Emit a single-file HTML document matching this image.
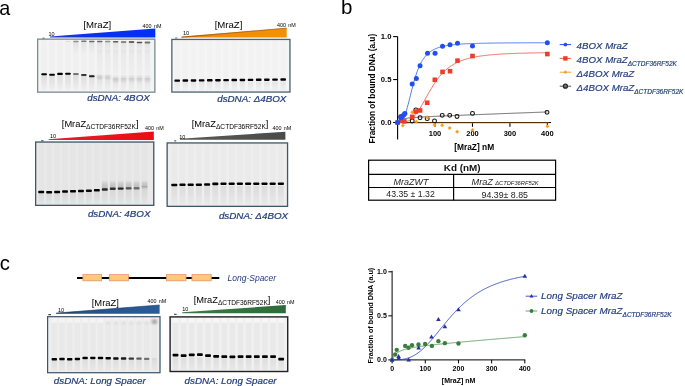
<!DOCTYPE html>
<html><head><meta charset="utf-8"><style>
html,body{margin:0;padding:0;background:#fff;}
body{width:685px;height:386px;overflow:hidden;font-family:"Liberation Sans",sans-serif;}
svg{display:block;will-change:transform;}
</style></head><body>
<svg width="685" height="386" viewBox="0 0 685 386" font-family="'Liberation Sans', sans-serif">
<defs>
<filter id="b05" x="-50%" y="-50%" width="200%" height="200%"><feGaussianBlur stdDeviation="0.5"/></filter>
<filter id="b1" x="-50%" y="-50%" width="200%" height="200%"><feGaussianBlur stdDeviation="1"/></filter>
<filter id="b08" x="-50%" y="-50%" width="200%" height="200%"><feGaussianBlur stdDeviation="0.8"/></filter>
<filter id="b03" x="-50%" y="-50%" width="200%" height="200%"><feGaussianBlur stdDeviation="0.3"/></filter>
<linearGradient id="smearUp" x1="0" y1="1" x2="0" y2="0"><stop offset="0" stop-color="#000" stop-opacity="0.3"/><stop offset="0.6" stop-color="#000" stop-opacity="0.18"/><stop offset="1" stop-color="#000" stop-opacity="0.04"/></linearGradient>
<linearGradient id="smear" x1="0" y1="0" x2="0" y2="1"><stop offset="0" stop-color="#000" stop-opacity="0.12"/><stop offset="1" stop-color="#000" stop-opacity="0"/></linearGradient>
<linearGradient id="gBlue" x1="0" y1="0" x2="1" y2="0"><stop offset="0" stop-color="#2a3fc0"/><stop offset="0.35" stop-color="#0a30ea"/><stop offset="1" stop-color="#0030ff"/></linearGradient>
<linearGradient id="gOrange" x1="0" y1="0" x2="1" y2="0"><stop offset="0" stop-color="#e07a10"/><stop offset="0.3" stop-color="#f08c08"/><stop offset="1" stop-color="#f39200"/></linearGradient>
<linearGradient id="gRed" x1="0" y1="0" x2="1" y2="0"><stop offset="0" stop-color="#e61e26"/><stop offset="1" stop-color="#ea0d16"/></linearGradient>
<linearGradient id="gGray" x1="0" y1="0" x2="1" y2="0"><stop offset="0" stop-color="#5a5a5a"/><stop offset="1" stop-color="#4a4a4a"/></linearGradient>
<linearGradient id="gSteel" x1="0" y1="0" x2="1" y2="0"><stop offset="0" stop-color="#1e3048"/><stop offset="0.25" stop-color="#265088"/><stop offset="1" stop-color="#2a5c9a"/></linearGradient>
<linearGradient id="gGreen" x1="0" y1="0" x2="1" y2="0"><stop offset="0" stop-color="#3b7a45"/><stop offset="1" stop-color="#2d6b38"/></linearGradient>
</defs>
<rect width="685" height="386" fill="#fff"/>
<text x="-0.8" y="14.6" font-size="19.8" font-weight="normal" font-style="normal" fill="#000" text-anchor="start" >a</text>
<text x="341" y="14.3" font-size="20.5" font-weight="normal" font-style="normal" fill="#000" text-anchor="start" >b</text>
<text x="-0.2" y="269.9" font-size="20.3" font-weight="normal" font-style="normal" fill="#000" text-anchor="start" >c</text>
<path d="M50,37.4 L50,36.5 L155.3,28.5 L155.3,37.4 Z" fill="url(#gBlue)"/>
<text x="97.3" y="28.4" font-size="9.6" font-weight="normal" font-style="normal" fill="#000" text-anchor="middle" >[MraZ]</text>
<text x="142.6" y="27.6" font-size="5.4" font-weight="normal" font-style="normal" fill="#000" text-anchor="start" word-spacing="0.8">400 nM</text>
<text x="48.5" y="36" font-size="5.5" font-weight="normal" font-style="normal" fill="#000" text-anchor="start" >10</text>
<rect x="42.4" y="37.8" width="2.2" height="1.3" fill="#111"/>
<rect x="37" y="38.5" width="118.5" height="54.3" fill="#f4f4f4"/>
<rect x="41.300000000000004" y="40.5" width="5.6" height="50.3" fill="#000" opacity="0.012" filter="url(#b05)"/>
<rect x="49.25000000000001" y="40.5" width="5.6" height="50.3" fill="#000" opacity="0.012" filter="url(#b05)"/>
<rect x="57.2" y="40.5" width="5.6" height="50.3" fill="#000" opacity="0.012" filter="url(#b05)"/>
<rect x="65.15" y="40.5" width="5.6" height="50.3" fill="#000" opacity="0.012" filter="url(#b05)"/>
<rect x="73.10000000000001" y="40.5" width="5.6" height="50.3" fill="#000" opacity="0.012" filter="url(#b05)"/>
<rect x="81.05" y="40.5" width="5.6" height="50.3" fill="#000" opacity="0.012" filter="url(#b05)"/>
<rect x="89.00000000000001" y="40.5" width="5.6" height="50.3" fill="#000" opacity="0.012" filter="url(#b05)"/>
<rect x="96.95" y="40.5" width="5.6" height="50.3" fill="#000" opacity="0.012" filter="url(#b05)"/>
<rect x="104.9" y="40.5" width="5.6" height="50.3" fill="#000" opacity="0.012" filter="url(#b05)"/>
<rect x="112.85000000000001" y="40.5" width="5.6" height="50.3" fill="#000" opacity="0.012" filter="url(#b05)"/>
<rect x="120.8" y="40.5" width="5.6" height="50.3" fill="#000" opacity="0.012" filter="url(#b05)"/>
<rect x="128.75" y="40.5" width="5.6" height="50.3" fill="#000" opacity="0.012" filter="url(#b05)"/>
<rect x="136.7" y="40.5" width="5.6" height="50.3" fill="#000" opacity="0.012" filter="url(#b05)"/>
<rect x="144.65" y="40.5" width="5.6" height="50.3" fill="#000" opacity="0.012" filter="url(#b05)"/>
<rect x="41.300000000000004" y="74.5" width="5.6" height="16.5" fill="url(#smear)" opacity="0.7" filter="url(#b05)"/>
<rect x="49.25000000000001" y="74.5" width="5.6" height="16.5" fill="url(#smear)" opacity="0.7" filter="url(#b05)"/>
<rect x="57.2" y="74.5" width="5.6" height="16.5" fill="url(#smear)" opacity="0.7" filter="url(#b05)"/>
<rect x="65.15" y="74.5" width="5.6" height="16.5" fill="url(#smear)" opacity="0.7" filter="url(#b05)"/>
<rect x="73.10000000000001" y="74.5" width="5.6" height="16.5" fill="url(#smear)" opacity="0.7" filter="url(#b05)"/>
<rect x="81.05" y="74.5" width="5.6" height="16.5" fill="url(#smear)" opacity="0.7" filter="url(#b05)"/>
<rect x="89.00000000000001" y="74.5" width="5.6" height="16.5" fill="url(#smear)" opacity="0.7" filter="url(#b05)"/>
<rect x="96.95" y="78" width="5.6" height="13" fill="url(#smear)" opacity="0.5" filter="url(#b05)"/>
<rect x="104.9" y="78" width="5.6" height="13" fill="url(#smear)" opacity="0.5" filter="url(#b05)"/>
<rect x="112.85000000000001" y="78" width="5.6" height="13" fill="url(#smear)" opacity="0.5" filter="url(#b05)"/>
<rect x="120.8" y="78" width="5.6" height="13" fill="url(#smear)" opacity="0.5" filter="url(#b05)"/>
<rect x="128.75" y="78" width="5.6" height="13" fill="url(#smear)" opacity="0.5" filter="url(#b05)"/>
<rect x="136.7" y="78" width="5.6" height="13" fill="url(#smear)" opacity="0.5" filter="url(#b05)"/>
<rect x="144.65" y="78" width="5.6" height="13" fill="url(#smear)" opacity="0.5" filter="url(#b05)"/>
<rect x="73.10000000000001" y="42" width="5.6" height="13" fill="url(#smear)" opacity="0.45" filter="url(#b05)"/>
<rect x="81.05" y="42" width="5.6" height="13" fill="url(#smear)" opacity="0.45" filter="url(#b05)"/>
<rect x="89.00000000000001" y="42" width="5.6" height="13" fill="url(#smear)" opacity="0.45" filter="url(#b05)"/>
<rect x="96.95" y="42" width="5.6" height="13" fill="url(#smear)" opacity="0.45" filter="url(#b05)"/>
<rect x="104.9" y="42" width="5.6" height="13" fill="url(#smear)" opacity="0.45" filter="url(#b05)"/>
<rect x="112.85000000000001" y="42" width="5.6" height="13" fill="url(#smear)" opacity="0.45" filter="url(#b05)"/>
<rect x="120.8" y="42" width="5.6" height="13" fill="url(#smear)" opacity="0.45" filter="url(#b05)"/>
<rect x="128.75" y="42" width="5.6" height="13" fill="url(#smear)" opacity="0.45" filter="url(#b05)"/>
<rect x="136.7" y="42" width="5.6" height="13" fill="url(#smear)" opacity="0.45" filter="url(#b05)"/>
<rect x="144.65" y="42" width="5.6" height="13" fill="url(#smear)" opacity="0.45" filter="url(#b05)"/>
<rect x="96.95" y="50" width="5.6" height="30" fill="url(#smear)" opacity="0.25" filter="url(#b05)"/>
<rect x="104.9" y="50" width="5.6" height="30" fill="url(#smear)" opacity="0.25" filter="url(#b05)"/>
<rect x="112.85000000000001" y="50" width="5.6" height="30" fill="url(#smear)" opacity="0.25" filter="url(#b05)"/>
<rect x="120.8" y="50" width="5.6" height="30" fill="url(#smear)" opacity="0.25" filter="url(#b05)"/>
<rect x="128.75" y="50" width="5.6" height="30" fill="url(#smear)" opacity="0.25" filter="url(#b05)"/>
<rect x="136.7" y="50" width="5.6" height="30" fill="url(#smear)" opacity="0.25" filter="url(#b05)"/>
<rect x="144.65" y="50" width="5.6" height="30" fill="url(#smear)" opacity="0.25" filter="url(#b05)"/>
<rect x="41.30" y="73.25" width="5.6" height="2.1" rx="0.8" fill="#000" opacity="1" filter="url(#b05)"/>
<rect x="49.25" y="73.75" width="5.6" height="2.1" rx="0.8" fill="#000" opacity="1" filter="url(#b05)"/>
<rect x="57.20" y="72.85" width="5.6" height="2.1" rx="0.8" fill="#000" opacity="1" filter="url(#b05)"/>
<rect x="65.15" y="72.65" width="5.6" height="2.1" rx="0.8" fill="#000" opacity="1" filter="url(#b05)"/>
<rect x="73.10" y="73.00" width="5.6" height="2" rx="0.8" fill="#000" opacity="0.5" filter="url(#b05)"/>
<rect x="81.05" y="73.90" width="5.6" height="2" rx="0.8" fill="#000" opacity="0.75" filter="url(#b05)"/>
<rect x="89.00" y="75.20" width="5.6" height="2" rx="0.8" fill="#000" opacity="0.85" filter="url(#b05)"/>
<rect x="96.95" y="75.75" width="5.6" height="2.5" rx="0.8" fill="#000" opacity="0.22" filter="url(#b08)"/>
<rect x="104.90" y="75.75" width="5.6" height="2.5" rx="0.8" fill="#000" opacity="0.2" filter="url(#b08)"/>
<rect x="112.85" y="76.70" width="5.6" height="5" rx="0.8" fill="#000" opacity="0.1" filter="url(#b1)"/>
<rect x="120.80" y="76.30" width="5.6" height="5" rx="0.8" fill="#000" opacity="0.09" filter="url(#b1)"/>
<rect x="128.75" y="75.90" width="5.6" height="5" rx="0.8" fill="#000" opacity="0.09" filter="url(#b1)"/>
<rect x="136.70" y="75.90" width="5.6" height="5" rx="0.8" fill="#000" opacity="0.09" filter="url(#b1)"/>
<rect x="144.65" y="76.30" width="5.6" height="5" rx="0.8" fill="#000" opacity="0.09" filter="url(#b1)"/>
<rect x="65.15" y="40.90" width="5.6" height="1.2" rx="0.8" fill="#000" opacity="0.08" filter="url(#b05)"/>
<rect x="73.10" y="40.75" width="5.6" height="1.5" rx="0.8" fill="#000" opacity="0.4" filter="url(#b05)"/>
<rect x="81.05" y="40.55" width="5.6" height="1.5" rx="0.8" fill="#000" opacity="0.5" filter="url(#b05)"/>
<rect x="89.00" y="40.85" width="5.6" height="1.5" rx="0.8" fill="#000" opacity="0.55" filter="url(#b05)"/>
<rect x="96.95" y="40.85" width="5.6" height="1.5" rx="0.8" fill="#000" opacity="0.55" filter="url(#b05)"/>
<rect x="104.90" y="40.85" width="5.6" height="1.5" rx="0.8" fill="#000" opacity="0.4" filter="url(#b05)"/>
<rect x="112.85" y="41.00" width="5.6" height="1.6" rx="0.8" fill="#000" opacity="0.6" filter="url(#b05)"/>
<rect x="120.80" y="41.25" width="5.6" height="1.5" rx="0.8" fill="#000" opacity="0.55" filter="url(#b05)"/>
<rect x="128.75" y="41.20" width="5.6" height="1.6" rx="0.8" fill="#000" opacity="0.75" filter="url(#b05)"/>
<rect x="136.70" y="41.85" width="5.6" height="1.5" rx="0.8" fill="#000" opacity="0.65" filter="url(#b05)"/>
<rect x="144.65" y="41.50" width="5.6" height="2" rx="0.8" fill="#000" opacity="0.5" filter="url(#b05)"/>
<rect x="37.65" y="39.15" width="117.2" height="53.0" fill="none" stroke="#7a8c92" stroke-width="1.3"/>
<text x="87.2" y="101.2" font-size="9.8" font-weight="normal" font-style="italic" fill="#223d7c" text-anchor="start" stroke="#223d7c" stroke-width="0.22">dsDNA: 4BOX</text>
<path d="M181.5,37.5 L181.5,36.6 L286.7,28.1 L286.7,37.5 Z" fill="url(#gOrange)"/>
<path d="M181.5,37.3 L286.7,28.1" stroke="#8a4a10" stroke-width="0.6" fill="none"/>
<text x="228.5" y="28.3" font-size="9.6" font-weight="normal" font-style="normal" fill="#000" text-anchor="middle" >[MraZ]</text>
<text x="277" y="26.6" font-size="5.4" font-weight="normal" font-style="normal" fill="#000" text-anchor="start" word-spacing="0.8">400 nM</text>
<text x="183" y="34.6" font-size="5.5" font-weight="normal" font-style="normal" fill="#000" text-anchor="start" >10</text>
<rect x="175" y="37.6" width="2.5" height="1" fill="#666"/>
<rect x="171.2" y="38.8" width="119.40000000000003" height="53.900000000000006" fill="#f5f5f5"/>
<rect x="174.39999999999998" y="40.8" width="5.6" height="49.900000000000006" fill="#000" opacity="0.008" filter="url(#b05)"/>
<rect x="182.54999999999998" y="40.8" width="5.6" height="49.900000000000006" fill="#000" opacity="0.008" filter="url(#b05)"/>
<rect x="190.7" y="40.8" width="5.6" height="49.900000000000006" fill="#000" opacity="0.008" filter="url(#b05)"/>
<rect x="198.84999999999997" y="40.8" width="5.6" height="49.900000000000006" fill="#000" opacity="0.008" filter="url(#b05)"/>
<rect x="206.99999999999997" y="40.8" width="5.6" height="49.900000000000006" fill="#000" opacity="0.008" filter="url(#b05)"/>
<rect x="215.14999999999998" y="40.8" width="5.6" height="49.900000000000006" fill="#000" opacity="0.008" filter="url(#b05)"/>
<rect x="223.29999999999998" y="40.8" width="5.6" height="49.900000000000006" fill="#000" opacity="0.008" filter="url(#b05)"/>
<rect x="231.45" y="40.8" width="5.6" height="49.900000000000006" fill="#000" opacity="0.008" filter="url(#b05)"/>
<rect x="239.59999999999997" y="40.8" width="5.6" height="49.900000000000006" fill="#000" opacity="0.008" filter="url(#b05)"/>
<rect x="247.75" y="40.8" width="5.6" height="49.900000000000006" fill="#000" opacity="0.008" filter="url(#b05)"/>
<rect x="255.89999999999998" y="40.8" width="5.6" height="49.900000000000006" fill="#000" opacity="0.008" filter="url(#b05)"/>
<rect x="264.05" y="40.8" width="5.6" height="49.900000000000006" fill="#000" opacity="0.008" filter="url(#b05)"/>
<rect x="272.2" y="40.8" width="5.6" height="49.900000000000006" fill="#000" opacity="0.008" filter="url(#b05)"/>
<rect x="280.34999999999997" y="40.8" width="5.6" height="49.900000000000006" fill="#000" opacity="0.008" filter="url(#b05)"/>
<rect x="174.39999999999998" y="81.5" width="5.6" height="10.5" fill="url(#smear)" opacity="0.45" filter="url(#b05)"/>
<rect x="182.54999999999998" y="81.5" width="5.6" height="10.5" fill="url(#smear)" opacity="0.45" filter="url(#b05)"/>
<rect x="190.7" y="81.5" width="5.6" height="10.5" fill="url(#smear)" opacity="0.45" filter="url(#b05)"/>
<rect x="198.84999999999997" y="81.5" width="5.6" height="10.5" fill="url(#smear)" opacity="0.45" filter="url(#b05)"/>
<rect x="206.99999999999997" y="81.5" width="5.6" height="10.5" fill="url(#smear)" opacity="0.45" filter="url(#b05)"/>
<rect x="215.14999999999998" y="81.5" width="5.6" height="10.5" fill="url(#smear)" opacity="0.45" filter="url(#b05)"/>
<rect x="223.29999999999998" y="81.5" width="5.6" height="10.5" fill="url(#smear)" opacity="0.45" filter="url(#b05)"/>
<rect x="231.45" y="81.5" width="5.6" height="10.5" fill="url(#smear)" opacity="0.45" filter="url(#b05)"/>
<rect x="239.59999999999997" y="81.5" width="5.6" height="10.5" fill="url(#smear)" opacity="0.45" filter="url(#b05)"/>
<rect x="247.75" y="81.5" width="5.6" height="10.5" fill="url(#smear)" opacity="0.45" filter="url(#b05)"/>
<rect x="255.89999999999998" y="81.5" width="5.6" height="10.5" fill="url(#smear)" opacity="0.45" filter="url(#b05)"/>
<rect x="264.05" y="81.5" width="5.6" height="10.5" fill="url(#smear)" opacity="0.45" filter="url(#b05)"/>
<rect x="272.2" y="81.5" width="5.6" height="10.5" fill="url(#smear)" opacity="0.45" filter="url(#b05)"/>
<rect x="280.34999999999997" y="81.5" width="5.6" height="10.5" fill="url(#smear)" opacity="0.45" filter="url(#b05)"/>
<rect x="174.40" y="79.40" width="5.6" height="2.4" rx="0.8" fill="#000" opacity="1" filter="url(#b05)"/>
<rect x="182.55" y="79.32" width="5.6" height="2.4" rx="0.8" fill="#000" opacity="1" filter="url(#b05)"/>
<rect x="190.70" y="79.24" width="5.6" height="2.4" rx="0.8" fill="#000" opacity="1" filter="url(#b05)"/>
<rect x="198.85" y="79.16" width="5.6" height="2.4" rx="0.8" fill="#000" opacity="1" filter="url(#b05)"/>
<rect x="207.00" y="79.08" width="5.6" height="2.4" rx="0.8" fill="#000" opacity="1" filter="url(#b05)"/>
<rect x="215.15" y="79.00" width="5.6" height="2.4" rx="0.8" fill="#000" opacity="1" filter="url(#b05)"/>
<rect x="223.30" y="78.92" width="5.6" height="2.4" rx="0.8" fill="#000" opacity="1" filter="url(#b05)"/>
<rect x="231.45" y="78.84" width="5.6" height="2.4" rx="0.8" fill="#000" opacity="1" filter="url(#b05)"/>
<rect x="239.60" y="78.76" width="5.6" height="2.4" rx="0.8" fill="#000" opacity="1" filter="url(#b05)"/>
<rect x="247.75" y="78.68" width="5.6" height="2.4" rx="0.8" fill="#000" opacity="1" filter="url(#b05)"/>
<rect x="255.90" y="78.60" width="5.6" height="2.4" rx="0.8" fill="#000" opacity="1" filter="url(#b05)"/>
<rect x="264.05" y="78.52" width="5.6" height="2.4" rx="0.8" fill="#000" opacity="1" filter="url(#b05)"/>
<rect x="272.20" y="78.44" width="5.6" height="2.4" rx="0.8" fill="#000" opacity="1" filter="url(#b05)"/>
<rect x="280.35" y="78.36" width="5.6" height="2.4" rx="0.8" fill="#000" opacity="1" filter="url(#b05)"/>
<rect x="171.85" y="39.449999999999996" width="118.10000000000004" height="52.60000000000001" fill="none" stroke="#4a6272" stroke-width="1.3"/>
<text x="217.2" y="102" font-size="9.8" font-weight="normal" font-style="italic" fill="#223d7c" text-anchor="start" stroke="#223d7c" stroke-width="0.22">dsDNA: Δ4BOX</text>
<path d="M48.6,140.1 L48.6,139.2 L153.8,131.4 L153.8,140.1 Z" fill="url(#gRed)"/>
<text x="61.8" y="126.5" font-size="9.3">[MraZ<tspan font-size="6.6" dy="2">ΔCTDF36RF52K</tspan><tspan dy="-2">]</tspan></text>
<text x="145" y="129.8" font-size="5.4" font-weight="normal" font-style="normal" fill="#000" text-anchor="start" word-spacing="0.8">400 nM</text>
<text x="50" y="137.5" font-size="5.5" font-weight="normal" font-style="normal" fill="#000" text-anchor="start" >10</text>
<rect x="41" y="140.4" width="2.6" height="1.2" fill="#222"/>
<rect x="35" y="141.4" width="119.4" height="64.6" fill="#e9e9e9"/>
<rect x="38.400000000000006" y="143.4" width="5.6" height="60.599999999999994" fill="#000" opacity="0.01" filter="url(#b05)"/>
<rect x="46.35000000000001" y="143.4" width="5.6" height="60.599999999999994" fill="#000" opacity="0.01" filter="url(#b05)"/>
<rect x="54.300000000000004" y="143.4" width="5.6" height="60.599999999999994" fill="#000" opacity="0.01" filter="url(#b05)"/>
<rect x="62.250000000000014" y="143.4" width="5.6" height="60.599999999999994" fill="#000" opacity="0.01" filter="url(#b05)"/>
<rect x="70.2" y="143.4" width="5.6" height="60.599999999999994" fill="#000" opacity="0.01" filter="url(#b05)"/>
<rect x="78.15" y="143.4" width="5.6" height="60.599999999999994" fill="#000" opacity="0.01" filter="url(#b05)"/>
<rect x="86.10000000000001" y="143.4" width="5.6" height="60.599999999999994" fill="#000" opacity="0.01" filter="url(#b05)"/>
<rect x="94.05" y="143.4" width="5.6" height="60.599999999999994" fill="#000" opacity="0.01" filter="url(#b05)"/>
<rect x="102.00000000000001" y="143.4" width="5.6" height="60.599999999999994" fill="#000" opacity="0.01" filter="url(#b05)"/>
<rect x="109.95" y="143.4" width="5.6" height="60.599999999999994" fill="#000" opacity="0.01" filter="url(#b05)"/>
<rect x="117.9" y="143.4" width="5.6" height="60.599999999999994" fill="#000" opacity="0.01" filter="url(#b05)"/>
<rect x="125.85000000000001" y="143.4" width="5.6" height="60.599999999999994" fill="#000" opacity="0.01" filter="url(#b05)"/>
<rect x="133.8" y="143.4" width="5.6" height="60.599999999999994" fill="#000" opacity="0.01" filter="url(#b05)"/>
<rect x="141.75" y="143.4" width="5.6" height="60.599999999999994" fill="#000" opacity="0.01" filter="url(#b05)"/>
<rect x="38.25" y="192" width="5.9" height="13" fill="url(#smear)" opacity="0.55" filter="url(#b05)"/>
<rect x="46.2" y="192" width="5.9" height="13" fill="url(#smear)" opacity="0.55" filter="url(#b05)"/>
<rect x="54.15" y="192" width="5.9" height="13" fill="url(#smear)" opacity="0.55" filter="url(#b05)"/>
<rect x="62.10000000000001" y="192" width="5.9" height="13" fill="url(#smear)" opacity="0.55" filter="url(#b05)"/>
<rect x="70.05" y="192" width="5.9" height="13" fill="url(#smear)" opacity="0.55" filter="url(#b05)"/>
<rect x="78.0" y="192" width="5.9" height="13" fill="url(#smear)" opacity="0.55" filter="url(#b05)"/>
<rect x="85.95" y="192" width="5.9" height="13" fill="url(#smear)" opacity="0.55" filter="url(#b05)"/>
<rect x="93.89999999999999" y="192" width="5.9" height="13" fill="url(#smear)" opacity="0.55" filter="url(#b05)"/>
<rect x="101.85000000000001" y="189" width="5.9" height="16" fill="url(#smear)" opacity="0.5" filter="url(#b05)"/>
<rect x="109.8" y="189" width="5.9" height="16" fill="url(#smear)" opacity="0.5" filter="url(#b05)"/>
<rect x="117.75" y="189" width="5.9" height="16" fill="url(#smear)" opacity="0.5" filter="url(#b05)"/>
<rect x="125.7" y="189" width="5.9" height="16" fill="url(#smear)" opacity="0.5" filter="url(#b05)"/>
<rect x="133.65000000000003" y="189" width="5.9" height="16" fill="url(#smear)" opacity="0.5" filter="url(#b05)"/>
<rect x="141.60000000000002" y="189" width="5.9" height="16" fill="url(#smear)" opacity="0.5" filter="url(#b05)"/>
<rect x="101.85000000000001" y="180.8" width="5.9" height="8.699999999999989" fill="url(#smearUp)" opacity="0.65" filter="url(#b05)"/>
<rect x="109.8" y="180.8" width="5.9" height="8.0" fill="url(#smearUp)" opacity="0.65" filter="url(#b05)"/>
<rect x="117.75" y="180.8" width="5.9" height="7.799999999999983" fill="url(#smearUp)" opacity="0.65" filter="url(#b05)"/>
<rect x="125.7" y="180.8" width="5.9" height="7.599999999999994" fill="url(#smearUp)" opacity="0.65" filter="url(#b05)"/>
<rect x="133.65000000000003" y="180.8" width="5.9" height="7.599999999999994" fill="url(#smearUp)" opacity="0.65" filter="url(#b05)"/>
<rect x="141.60000000000002" y="180.8" width="5.9" height="6.699999999999989" fill="url(#smearUp)" opacity="0.65" filter="url(#b05)"/>
<rect x="38.25" y="190.70" width="5.9" height="2.6" rx="0.8" fill="#000" opacity="1" filter="url(#b05)"/>
<rect x="46.20" y="191.00" width="5.9" height="2.6" rx="0.8" fill="#000" opacity="1" filter="url(#b05)"/>
<rect x="54.15" y="190.75" width="5.9" height="2.5" rx="0.8" fill="#000" opacity="1" filter="url(#b05)"/>
<rect x="62.10" y="190.35" width="5.9" height="2.5" rx="0.8" fill="#000" opacity="1" filter="url(#b05)"/>
<rect x="70.05" y="190.05" width="5.9" height="2.5" rx="0.8" fill="#000" opacity="1" filter="url(#b05)"/>
<rect x="78.00" y="189.75" width="5.9" height="2.5" rx="0.8" fill="#000" opacity="1" filter="url(#b05)"/>
<rect x="85.95" y="189.55" width="5.9" height="2.5" rx="0.8" fill="#000" opacity="0.95" filter="url(#b05)"/>
<rect x="93.90" y="188.95" width="5.9" height="2.5" rx="0.8" fill="#000" opacity="1" filter="url(#b05)"/>
<rect x="101.85" y="188.30" width="5.9" height="2.4" rx="0.8" fill="#000" opacity="0.8" filter="url(#b05)"/>
<rect x="109.80" y="187.60" width="5.9" height="2.4" rx="0.8" fill="#000" opacity="0.75" filter="url(#b05)"/>
<rect x="117.75" y="187.40" width="5.9" height="2.4" rx="0.8" fill="#000" opacity="0.8" filter="url(#b05)"/>
<rect x="125.70" y="187.20" width="5.9" height="2.4" rx="0.8" fill="#000" opacity="0.6" filter="url(#b05)"/>
<rect x="133.65" y="187.20" width="5.9" height="2.4" rx="0.8" fill="#000" opacity="0.5" filter="url(#b05)"/>
<rect x="141.60" y="186.00" width="5.9" height="3" rx="0.8" fill="#000" opacity="0.1" filter="url(#b05)"/>
<rect x="35.65" y="142.05" width="118.10000000000001" height="63.3" fill="none" stroke="#3f5868" stroke-width="1.3"/>
<text x="87.9" y="216.6" font-size="9.8" font-weight="normal" font-style="italic" fill="#223d7c" text-anchor="start" stroke="#223d7c" stroke-width="0.22">dsDNA: 4BOX</text>
<path d="M180,139.7 L180,138.79999999999998 L285.4,131.7 L285.4,139.7 Z" fill="url(#gGray)"/>
<text x="191.7" y="126.9" font-size="9.3">[MraZ<tspan font-size="6.6" dy="2">ΔCTDF36RF52K</tspan><tspan dy="-2">]</tspan></text>
<text x="272.5" y="130.4" font-size="5.4" font-weight="normal" font-style="normal" fill="#000" text-anchor="start" word-spacing="0.8">400 nM</text>
<text x="179.2" y="138.8" font-size="5.5" font-weight="normal" font-style="normal" fill="#000" text-anchor="start" >10</text>
<rect x="174.2" y="140.4" width="2" height="1" fill="#444"/>
<rect x="166.5" y="142.3" width="121.69999999999999" height="64.69999999999999" fill="#eeeeee"/>
<rect x="171.5" y="144.3" width="5.6" height="60.69999999999999" fill="#000" opacity="0.01" filter="url(#b05)"/>
<rect x="179.7" y="144.3" width="5.6" height="60.69999999999999" fill="#000" opacity="0.01" filter="url(#b05)"/>
<rect x="187.9" y="144.3" width="5.6" height="60.69999999999999" fill="#000" opacity="0.01" filter="url(#b05)"/>
<rect x="196.1" y="144.3" width="5.6" height="60.69999999999999" fill="#000" opacity="0.01" filter="url(#b05)"/>
<rect x="204.3" y="144.3" width="5.6" height="60.69999999999999" fill="#000" opacity="0.01" filter="url(#b05)"/>
<rect x="212.5" y="144.3" width="5.6" height="60.69999999999999" fill="#000" opacity="0.01" filter="url(#b05)"/>
<rect x="220.7" y="144.3" width="5.6" height="60.69999999999999" fill="#000" opacity="0.01" filter="url(#b05)"/>
<rect x="228.89999999999998" y="144.3" width="5.6" height="60.69999999999999" fill="#000" opacity="0.01" filter="url(#b05)"/>
<rect x="237.1" y="144.3" width="5.6" height="60.69999999999999" fill="#000" opacity="0.01" filter="url(#b05)"/>
<rect x="245.3" y="144.3" width="5.6" height="60.69999999999999" fill="#000" opacity="0.01" filter="url(#b05)"/>
<rect x="253.5" y="144.3" width="5.6" height="60.69999999999999" fill="#000" opacity="0.01" filter="url(#b05)"/>
<rect x="261.7" y="144.3" width="5.6" height="60.69999999999999" fill="#000" opacity="0.01" filter="url(#b05)"/>
<rect x="269.9" y="144.3" width="5.6" height="60.69999999999999" fill="#000" opacity="0.01" filter="url(#b05)"/>
<rect x="278.09999999999997" y="144.3" width="5.6" height="60.69999999999999" fill="#000" opacity="0.01" filter="url(#b05)"/>
<rect x="171.3" y="186" width="6.0" height="20" fill="url(#smear)" opacity="0.5" filter="url(#b05)"/>
<rect x="179.5" y="186" width="6.0" height="20" fill="url(#smear)" opacity="0.5" filter="url(#b05)"/>
<rect x="187.70000000000002" y="186" width="6.0" height="20" fill="url(#smear)" opacity="0.5" filter="url(#b05)"/>
<rect x="195.9" y="186" width="6.0" height="20" fill="url(#smear)" opacity="0.5" filter="url(#b05)"/>
<rect x="204.10000000000002" y="186" width="6.0" height="20" fill="url(#smear)" opacity="0.5" filter="url(#b05)"/>
<rect x="212.3" y="186" width="6.0" height="20" fill="url(#smear)" opacity="0.5" filter="url(#b05)"/>
<rect x="220.5" y="186" width="6.0" height="20" fill="url(#smear)" opacity="0.5" filter="url(#b05)"/>
<rect x="228.7" y="186" width="6.0" height="20" fill="url(#smear)" opacity="0.5" filter="url(#b05)"/>
<rect x="236.9" y="186" width="6.0" height="20" fill="url(#smear)" opacity="0.5" filter="url(#b05)"/>
<rect x="245.10000000000002" y="186" width="6.0" height="20" fill="url(#smear)" opacity="0.5" filter="url(#b05)"/>
<rect x="253.3" y="186" width="6.0" height="20" fill="url(#smear)" opacity="0.5" filter="url(#b05)"/>
<rect x="261.5" y="186" width="6.0" height="20" fill="url(#smear)" opacity="0.5" filter="url(#b05)"/>
<rect x="269.7" y="186" width="6.0" height="20" fill="url(#smear)" opacity="0.5" filter="url(#b05)"/>
<rect x="277.9" y="186" width="6.0" height="20" fill="url(#smear)" opacity="0.5" filter="url(#b05)"/>
<rect x="171.30" y="183.70" width="6.0" height="2.6" rx="0.8" fill="#000" opacity="1" filter="url(#b05)"/>
<rect x="179.50" y="183.50" width="6.0" height="2.6" rx="0.8" fill="#000" opacity="1" filter="url(#b05)"/>
<rect x="187.70" y="183.50" width="6.0" height="2.6" rx="0.8" fill="#000" opacity="1" filter="url(#b05)"/>
<rect x="195.90" y="183.50" width="6.0" height="2.6" rx="0.8" fill="#000" opacity="1" filter="url(#b05)"/>
<rect x="204.10" y="183.20" width="6.0" height="2.6" rx="0.8" fill="#000" opacity="1" filter="url(#b05)"/>
<rect x="212.30" y="182.60" width="6.0" height="2.6" rx="0.8" fill="#000" opacity="1" filter="url(#b05)"/>
<rect x="220.50" y="182.50" width="6.0" height="2.6" rx="0.8" fill="#000" opacity="1" filter="url(#b05)"/>
<rect x="228.70" y="182.50" width="6.0" height="2.6" rx="0.8" fill="#000" opacity="1" filter="url(#b05)"/>
<rect x="236.90" y="182.50" width="6.0" height="2.6" rx="0.8" fill="#000" opacity="1" filter="url(#b05)"/>
<rect x="245.10" y="182.50" width="6.0" height="2.6" rx="0.8" fill="#000" opacity="1" filter="url(#b05)"/>
<rect x="253.30" y="182.50" width="6.0" height="2.6" rx="0.8" fill="#000" opacity="1" filter="url(#b05)"/>
<rect x="261.50" y="182.50" width="6.0" height="2.6" rx="0.8" fill="#000" opacity="1" filter="url(#b05)"/>
<rect x="269.70" y="182.50" width="6.0" height="2.6" rx="0.8" fill="#000" opacity="1" filter="url(#b05)"/>
<rect x="277.90" y="182.50" width="6.0" height="2.6" rx="0.8" fill="#000" opacity="1" filter="url(#b05)"/>
<rect x="167.15" y="142.95000000000002" width="120.39999999999999" height="63.39999999999999" fill="none" stroke="#3f5868" stroke-width="1.3"/>
<text x="218.9" y="218.5" font-size="9.8" font-weight="normal" font-style="italic" fill="#223d7c" text-anchor="start" stroke="#223d7c" stroke-width="0.22">dsDNA: Δ4BOX</text>
<rect x="77" y="277" width="142.3" height="2" fill="#000"/>
<rect x="82.9" y="274.6" width="18.69999999999999" height="6.2" fill="#fdc97a" stroke="#e8956a" stroke-width="0.8"/>
<rect x="109.3" y="274.6" width="19.200000000000003" height="6.2" fill="#fdc97a" stroke="#e8956a" stroke-width="0.8"/>
<rect x="166.5" y="274.6" width="19.5" height="6.2" fill="#fdc97a" stroke="#e8956a" stroke-width="0.8"/>
<rect x="192" y="274.6" width="19.19999999999999" height="6.2" fill="#fdc97a" stroke="#e8956a" stroke-width="0.8"/>
<text x="227.5" y="280.6" font-size="8.5" font-weight="normal" font-style="italic" fill="#223d7c" text-anchor="start" >Long-Spacer</text>
<path d="M56.2,313.8 L56.2,312.90000000000003 L159.6,305 L159.6,313.8 Z" fill="url(#gSteel)"/>
<path d="M56.2,313.1 L159.6,305" stroke="#1c3a62" stroke-width="0.6" fill="none"/>
<text x="105.3" y="306.1" font-size="9.4" font-weight="normal" font-style="normal" fill="#000" text-anchor="middle" >[MraZ]</text>
<text x="147.4" y="303" font-size="5.4" font-weight="normal" font-style="normal" fill="#000" text-anchor="start" word-spacing="0.8">400 nM</text>
<text x="58" y="311.9" font-size="5.5" font-weight="normal" font-style="normal" fill="#000" text-anchor="start" >10</text>
<rect x="48.3" y="314.1" width="2.7" height="1.1" fill="#333"/>
<rect x="47" y="316.1" width="113.6" height="57.19999999999999" fill="#eeeeee"/>
<rect x="51.5" y="318.1" width="5.6" height="53.19999999999999" fill="#000" opacity="0.015" filter="url(#b05)"/>
<rect x="51.5" y="317.6" width="5.6" height="5" fill="#fff" opacity="0.5" filter="url(#b05)"/>
<rect x="59.2" y="318.1" width="5.6" height="53.19999999999999" fill="#000" opacity="0.015" filter="url(#b05)"/>
<rect x="59.2" y="317.6" width="5.6" height="5" fill="#fff" opacity="0.5" filter="url(#b05)"/>
<rect x="66.9" y="318.1" width="5.6" height="53.19999999999999" fill="#000" opacity="0.015" filter="url(#b05)"/>
<rect x="66.9" y="317.6" width="5.6" height="5" fill="#fff" opacity="0.5" filter="url(#b05)"/>
<rect x="74.60000000000001" y="318.1" width="5.6" height="53.19999999999999" fill="#000" opacity="0.015" filter="url(#b05)"/>
<rect x="74.60000000000001" y="317.6" width="5.6" height="5" fill="#fff" opacity="0.5" filter="url(#b05)"/>
<rect x="82.3" y="318.1" width="5.6" height="53.19999999999999" fill="#000" opacity="0.015" filter="url(#b05)"/>
<rect x="82.3" y="317.6" width="5.6" height="5" fill="#fff" opacity="0.5" filter="url(#b05)"/>
<rect x="90.0" y="318.1" width="5.6" height="53.19999999999999" fill="#000" opacity="0.015" filter="url(#b05)"/>
<rect x="90.0" y="317.6" width="5.6" height="5" fill="#fff" opacity="0.5" filter="url(#b05)"/>
<rect x="97.7" y="318.1" width="5.6" height="53.19999999999999" fill="#000" opacity="0.015" filter="url(#b05)"/>
<rect x="97.7" y="317.6" width="5.6" height="5" fill="#fff" opacity="0.5" filter="url(#b05)"/>
<rect x="105.39999999999999" y="318.1" width="5.6" height="53.19999999999999" fill="#000" opacity="0.015" filter="url(#b05)"/>
<rect x="105.39999999999999" y="317.6" width="5.6" height="5" fill="#fff" opacity="0.5" filter="url(#b05)"/>
<rect x="113.10000000000001" y="318.1" width="5.6" height="53.19999999999999" fill="#000" opacity="0.015" filter="url(#b05)"/>
<rect x="113.10000000000001" y="317.6" width="5.6" height="5" fill="#fff" opacity="0.5" filter="url(#b05)"/>
<rect x="120.8" y="318.1" width="5.6" height="53.19999999999999" fill="#000" opacity="0.015" filter="url(#b05)"/>
<rect x="120.8" y="317.6" width="5.6" height="5" fill="#fff" opacity="0.5" filter="url(#b05)"/>
<rect x="128.5" y="318.1" width="5.6" height="53.19999999999999" fill="#000" opacity="0.015" filter="url(#b05)"/>
<rect x="128.5" y="317.6" width="5.6" height="5" fill="#fff" opacity="0.5" filter="url(#b05)"/>
<rect x="136.2" y="318.1" width="5.6" height="53.19999999999999" fill="#000" opacity="0.015" filter="url(#b05)"/>
<rect x="136.2" y="317.6" width="5.6" height="5" fill="#fff" opacity="0.5" filter="url(#b05)"/>
<rect x="143.89999999999998" y="318.1" width="5.6" height="53.19999999999999" fill="#000" opacity="0.015" filter="url(#b05)"/>
<rect x="143.89999999999998" y="317.6" width="5.6" height="5" fill="#fff" opacity="0.5" filter="url(#b05)"/>
<rect x="151.6" y="318.1" width="5.6" height="53.19999999999999" fill="#000" opacity="0.015" filter="url(#b05)"/>
<rect x="151.6" y="317.6" width="5.6" height="5" fill="#fff" opacity="0.5" filter="url(#b05)"/>
<rect x="51.599999999999994" y="360" width="5.4" height="12" fill="url(#smear)" opacity="0.4" filter="url(#b05)"/>
<rect x="59.3" y="360" width="5.4" height="12" fill="url(#smear)" opacity="0.4" filter="url(#b05)"/>
<rect x="67.0" y="360" width="5.4" height="12" fill="url(#smear)" opacity="0.4" filter="url(#b05)"/>
<rect x="74.7" y="360" width="5.4" height="12" fill="url(#smear)" opacity="0.4" filter="url(#b05)"/>
<rect x="82.39999999999999" y="360" width="5.4" height="12" fill="url(#smear)" opacity="0.4" filter="url(#b05)"/>
<rect x="90.1" y="360" width="5.4" height="12" fill="url(#smear)" opacity="0.4" filter="url(#b05)"/>
<rect x="97.8" y="360" width="5.4" height="12" fill="url(#smear)" opacity="0.4" filter="url(#b05)"/>
<rect x="105.49999999999999" y="360" width="5.4" height="12" fill="url(#smear)" opacity="0.4" filter="url(#b05)"/>
<rect x="113.2" y="360" width="5.4" height="12" fill="url(#smear)" opacity="0.4" filter="url(#b05)"/>
<rect x="120.89999999999999" y="360" width="5.4" height="12" fill="url(#smear)" opacity="0.4" filter="url(#b05)"/>
<rect x="128.60000000000002" y="360" width="5.4" height="12" fill="url(#smear)" opacity="0.4" filter="url(#b05)"/>
<rect x="136.3" y="360" width="5.4" height="12" fill="url(#smear)" opacity="0.4" filter="url(#b05)"/>
<rect x="144.0" y="360" width="5.4" height="12" fill="url(#smear)" opacity="0.4" filter="url(#b05)"/>
<rect x="151.70000000000002" y="360" width="5.4" height="12" fill="url(#smear)" opacity="0.4" filter="url(#b05)"/>
<rect x="51.60" y="357.95" width="5.4" height="2.5" rx="0.8" fill="#000" opacity="1" filter="url(#b05)"/>
<rect x="59.30" y="357.75" width="5.4" height="2.5" rx="0.8" fill="#000" opacity="1" filter="url(#b05)"/>
<rect x="67.00" y="357.95" width="5.4" height="2.5" rx="0.8" fill="#000" opacity="1" filter="url(#b05)"/>
<rect x="74.70" y="357.65" width="5.4" height="2.5" rx="0.8" fill="#000" opacity="1" filter="url(#b05)"/>
<rect x="82.40" y="356.85" width="5.4" height="2.5" rx="0.8" fill="#000" opacity="1" filter="url(#b05)"/>
<rect x="90.10" y="356.65" width="5.4" height="2.5" rx="0.8" fill="#000" opacity="1" filter="url(#b05)"/>
<rect x="97.80" y="356.85" width="5.4" height="2.5" rx="0.8" fill="#000" opacity="1" filter="url(#b05)"/>
<rect x="105.50" y="357.05" width="5.4" height="2.5" rx="0.8" fill="#000" opacity="1" filter="url(#b05)"/>
<rect x="113.20" y="357.25" width="5.4" height="2.5" rx="0.8" fill="#000" opacity="0.95" filter="url(#b05)"/>
<rect x="120.90" y="357.35" width="5.4" height="2.5" rx="0.8" fill="#000" opacity="0.9" filter="url(#b05)"/>
<rect x="128.60" y="357.40" width="5.4" height="2.4" rx="0.8" fill="#000" opacity="0.75" filter="url(#b05)"/>
<rect x="136.30" y="357.45" width="5.4" height="2.3" rx="0.8" fill="#000" opacity="0.6" filter="url(#b05)"/>
<rect x="144.00" y="357.65" width="5.4" height="2.3" rx="0.8" fill="#000" opacity="0.5" filter="url(#b05)"/>
<rect x="151.70" y="358.00" width="5.4" height="2" rx="0.8" fill="#000" opacity="0.06" filter="url(#b05)"/>
<rect x="105.50" y="320.25" width="5.4" height="3.5" rx="0.8" fill="#000" opacity="0.06" filter="url(#b08)"/>
<rect x="113.20" y="320.25" width="5.4" height="3.5" rx="0.8" fill="#000" opacity="0.06" filter="url(#b08)"/>
<rect x="120.90" y="320.25" width="5.4" height="3.5" rx="0.8" fill="#000" opacity="0.06" filter="url(#b08)"/>
<rect x="128.60" y="320.25" width="5.4" height="3.5" rx="0.8" fill="#000" opacity="0.06" filter="url(#b08)"/>
<rect x="136.30" y="320.25" width="5.4" height="3.5" rx="0.8" fill="#000" opacity="0.06" filter="url(#b08)"/>
<rect x="144.00" y="320.25" width="5.4" height="3.5" rx="0.8" fill="#000" opacity="0.06" filter="url(#b08)"/>
<rect x="151.70" y="319.25" width="5.4" height="4.5" rx="0.8" fill="#000" opacity="0.3" filter="url(#b08)"/>
<rect x="47.6" y="316.70000000000005" width="112.39999999999999" height="55.999999999999986" fill="none" stroke="#3a566c" stroke-width="1.2"/>
<text x="53.8" y="383.5" font-size="9.8" font-weight="normal" font-style="italic" fill="#223d7c" text-anchor="start" stroke="#223d7c" stroke-width="0.22">dsDNA: Long Spacer</text>
<path d="M182.3,313.2 L182.3,312.3 L285.8,305.1 L285.8,313.2 Z" fill="url(#gGreen)"/>
<text x="193.7" y="302.8" font-size="9.3">[MraZ<tspan font-size="6.6" dy="2">ΔCTDF36RF52K</tspan><tspan dy="-2">]</tspan></text>
<text x="275.7" y="303.5" font-size="5.4" font-weight="normal" font-style="normal" fill="#000" text-anchor="start" word-spacing="0.8">400 nM</text>
<text x="182.3" y="311" font-size="5.5" font-weight="normal" font-style="normal" fill="#000" text-anchor="start" >10</text>
<rect x="174" y="313.8" width="2.6" height="1" fill="#333"/>
<rect x="169.4" y="316.2" width="118.99999999999997" height="56.0" fill="#f0f0f0"/>
<rect x="172.7" y="318.2" width="5.6" height="52.0" fill="#000" opacity="0.022" filter="url(#b05)"/>
<rect x="172.7" y="317.7" width="5.6" height="5" fill="#fff" opacity="0.6" filter="url(#b05)"/>
<rect x="180.82999999999998" y="318.2" width="5.6" height="52.0" fill="#000" opacity="0.022" filter="url(#b05)"/>
<rect x="180.82999999999998" y="317.7" width="5.6" height="5" fill="#fff" opacity="0.6" filter="url(#b05)"/>
<rect x="188.95999999999998" y="318.2" width="5.6" height="52.0" fill="#000" opacity="0.022" filter="url(#b05)"/>
<rect x="188.95999999999998" y="317.7" width="5.6" height="5" fill="#fff" opacity="0.6" filter="url(#b05)"/>
<rect x="197.08999999999997" y="318.2" width="5.6" height="52.0" fill="#000" opacity="0.022" filter="url(#b05)"/>
<rect x="197.08999999999997" y="317.7" width="5.6" height="5" fill="#fff" opacity="0.6" filter="url(#b05)"/>
<rect x="205.22" y="318.2" width="5.6" height="52.0" fill="#000" opacity="0.022" filter="url(#b05)"/>
<rect x="205.22" y="317.7" width="5.6" height="5" fill="#fff" opacity="0.6" filter="url(#b05)"/>
<rect x="213.35" y="318.2" width="5.6" height="52.0" fill="#000" opacity="0.022" filter="url(#b05)"/>
<rect x="213.35" y="317.7" width="5.6" height="5" fill="#fff" opacity="0.6" filter="url(#b05)"/>
<rect x="221.48" y="318.2" width="5.6" height="52.0" fill="#000" opacity="0.022" filter="url(#b05)"/>
<rect x="221.48" y="317.7" width="5.6" height="5" fill="#fff" opacity="0.6" filter="url(#b05)"/>
<rect x="229.60999999999999" y="318.2" width="5.6" height="52.0" fill="#000" opacity="0.022" filter="url(#b05)"/>
<rect x="229.60999999999999" y="317.7" width="5.6" height="5" fill="#fff" opacity="0.6" filter="url(#b05)"/>
<rect x="237.74" y="318.2" width="5.6" height="52.0" fill="#000" opacity="0.022" filter="url(#b05)"/>
<rect x="237.74" y="317.7" width="5.6" height="5" fill="#fff" opacity="0.6" filter="url(#b05)"/>
<rect x="245.87" y="318.2" width="5.6" height="52.0" fill="#000" opacity="0.022" filter="url(#b05)"/>
<rect x="245.87" y="317.7" width="5.6" height="5" fill="#fff" opacity="0.6" filter="url(#b05)"/>
<rect x="254.0" y="318.2" width="5.6" height="52.0" fill="#000" opacity="0.022" filter="url(#b05)"/>
<rect x="254.0" y="317.7" width="5.6" height="5" fill="#fff" opacity="0.6" filter="url(#b05)"/>
<rect x="262.13" y="318.2" width="5.6" height="52.0" fill="#000" opacity="0.022" filter="url(#b05)"/>
<rect x="262.13" y="317.7" width="5.6" height="5" fill="#fff" opacity="0.6" filter="url(#b05)"/>
<rect x="270.26" y="318.2" width="5.6" height="52.0" fill="#000" opacity="0.022" filter="url(#b05)"/>
<rect x="270.26" y="317.7" width="5.6" height="5" fill="#fff" opacity="0.6" filter="url(#b05)"/>
<rect x="278.39" y="318.2" width="5.6" height="52.0" fill="#000" opacity="0.022" filter="url(#b05)"/>
<rect x="278.39" y="317.7" width="5.6" height="5" fill="#fff" opacity="0.6" filter="url(#b05)"/>
<rect x="172.6" y="357.5" width="5.8" height="14.5" fill="url(#smear)" opacity="0.4" filter="url(#b05)"/>
<rect x="180.73" y="357.5" width="5.8" height="14.5" fill="url(#smear)" opacity="0.4" filter="url(#b05)"/>
<rect x="188.85999999999999" y="357.5" width="5.8" height="14.5" fill="url(#smear)" opacity="0.4" filter="url(#b05)"/>
<rect x="196.98999999999998" y="357.5" width="5.8" height="14.5" fill="url(#smear)" opacity="0.4" filter="url(#b05)"/>
<rect x="205.12" y="357.5" width="5.8" height="14.5" fill="url(#smear)" opacity="0.4" filter="url(#b05)"/>
<rect x="213.25" y="357.5" width="5.8" height="14.5" fill="url(#smear)" opacity="0.4" filter="url(#b05)"/>
<rect x="221.38" y="357.5" width="5.8" height="14.5" fill="url(#smear)" opacity="0.4" filter="url(#b05)"/>
<rect x="229.51" y="357.5" width="5.8" height="14.5" fill="url(#smear)" opacity="0.4" filter="url(#b05)"/>
<rect x="237.64000000000001" y="357.5" width="5.8" height="14.5" fill="url(#smear)" opacity="0.4" filter="url(#b05)"/>
<rect x="245.77" y="357.5" width="5.8" height="14.5" fill="url(#smear)" opacity="0.4" filter="url(#b05)"/>
<rect x="253.9" y="357.5" width="5.8" height="14.5" fill="url(#smear)" opacity="0.4" filter="url(#b05)"/>
<rect x="262.03000000000003" y="357.5" width="5.8" height="14.5" fill="url(#smear)" opacity="0.4" filter="url(#b05)"/>
<rect x="270.16" y="357.5" width="5.8" height="14.5" fill="url(#smear)" opacity="0.4" filter="url(#b05)"/>
<rect x="278.29" y="357.5" width="5.8" height="14.5" fill="url(#smear)" opacity="0.4" filter="url(#b05)"/>
<rect x="172.60" y="353.80" width="5.8" height="2.8" rx="0.8" fill="#000" opacity="1" filter="url(#b05)"/>
<rect x="180.73" y="354.30" width="5.8" height="2.8" rx="0.8" fill="#000" opacity="1" filter="url(#b05)"/>
<rect x="188.86" y="353.50" width="5.8" height="2.8" rx="0.8" fill="#000" opacity="1" filter="url(#b05)"/>
<rect x="196.99" y="353.30" width="5.8" height="2.8" rx="0.8" fill="#000" opacity="1" filter="url(#b05)"/>
<rect x="205.12" y="354.30" width="5.8" height="2.8" rx="0.8" fill="#000" opacity="1" filter="url(#b05)"/>
<rect x="213.25" y="354.90" width="5.8" height="2.8" rx="0.8" fill="#000" opacity="1" filter="url(#b05)"/>
<rect x="221.38" y="355.30" width="5.8" height="2.8" rx="0.8" fill="#000" opacity="1" filter="url(#b05)"/>
<rect x="229.51" y="355.50" width="5.8" height="2.8" rx="0.8" fill="#000" opacity="1" filter="url(#b05)"/>
<rect x="237.64" y="355.30" width="5.8" height="2.8" rx="0.8" fill="#000" opacity="1" filter="url(#b05)"/>
<rect x="245.77" y="355.30" width="5.8" height="2.8" rx="0.8" fill="#000" opacity="1" filter="url(#b05)"/>
<rect x="253.90" y="355.30" width="5.8" height="2.8" rx="0.8" fill="#000" opacity="1" filter="url(#b05)"/>
<rect x="262.03" y="355.30" width="5.8" height="2.8" rx="0.8" fill="#000" opacity="1" filter="url(#b05)"/>
<rect x="270.16" y="355.30" width="5.8" height="2.8" rx="0.8" fill="#000" opacity="1" filter="url(#b05)"/>
<rect x="278.29" y="357.80" width="5.8" height="2.8" rx="0.8" fill="#000" opacity="1" filter="url(#b05)"/>
<rect x="170.1" y="316.9" width="117.59999999999997" height="54.6" fill="none" stroke="#222" stroke-width="1.4"/>
<text x="184.6" y="383.5" font-size="9.8" font-weight="normal" font-style="italic" fill="#223d7c" text-anchor="start" stroke="#223d7c" stroke-width="0.22">dsDNA: Long Spacer</text>
<line x1="397.6" y1="36.4" x2="397.6" y2="139.5" stroke="#000" stroke-width="1.1"/>
<line x1="397.6" y1="122.5" x2="551" y2="122.5" stroke="#000" stroke-width="1.1"/>
<line x1="393.1" y1="36.599999999999994" x2="397.6" y2="36.599999999999994" stroke="#000" stroke-width="1.1"/>
<text x="391.5" y="39.099999999999994" font-size="7.7" font-weight="bold" font-style="normal" fill="#000" text-anchor="end" >1.0</text>
<line x1="393.1" y1="79.55" x2="397.6" y2="79.55" stroke="#000" stroke-width="1.1"/>
<text x="391.5" y="82.05" font-size="7.7" font-weight="bold" font-style="normal" fill="#000" text-anchor="end" >0.5</text>
<line x1="393.1" y1="122.5" x2="397.6" y2="122.5" stroke="#000" stroke-width="1.1"/>
<text x="391.5" y="125.0" font-size="7.7" font-weight="bold" font-style="normal" fill="#000" text-anchor="end" >0.0</text>
<line x1="435.04" y1="122.5" x2="435.04" y2="126.8" stroke="#000" stroke-width="1.1"/>
<text x="435.04" y="135.6" font-size="7.5" font-weight="bold" font-style="normal" fill="#000" text-anchor="middle" >100</text>
<line x1="472.48" y1="122.5" x2="472.48" y2="126.8" stroke="#000" stroke-width="1.1"/>
<text x="472.48" y="135.6" font-size="7.5" font-weight="bold" font-style="normal" fill="#000" text-anchor="middle" >200</text>
<line x1="509.92" y1="122.5" x2="509.92" y2="126.8" stroke="#000" stroke-width="1.1"/>
<text x="509.92" y="135.6" font-size="7.5" font-weight="bold" font-style="normal" fill="#000" text-anchor="middle" >300</text>
<line x1="547.36" y1="122.5" x2="547.36" y2="126.8" stroke="#000" stroke-width="1.1"/>
<text x="547.36" y="135.6" font-size="7.5" font-weight="bold" font-style="normal" fill="#000" text-anchor="middle" >400</text>
<text x="474.2" y="150" font-size="8.4" font-weight="bold" font-style="normal" fill="#000" text-anchor="middle" >[MraZ] nM</text>
<text transform="translate(374.6,88.7) rotate(-90)" font-size="8.25" font-weight="bold" text-anchor="middle">Fraction of bound DNA (a.u)</text>
<line x1="397.6" y1="123.0" x2="549" y2="123.0" stroke="#e08a20" stroke-width="1" opacity="0.75"/>
<path d="M397.60,122.50 L398.35,122.49 L399.10,122.42 L399.85,122.24 L400.60,121.90 L401.34,121.35 L402.09,120.57 L402.84,119.53 L403.59,118.20 L404.34,116.58 L405.09,114.67 L405.84,112.49 L406.59,110.07 L407.33,107.43 L408.08,104.63 L408.83,101.70 L409.58,98.69 L410.33,95.66 L411.08,92.63 L411.83,89.64 L412.58,86.73 L413.32,83.92 L414.07,81.23 L414.82,78.66 L415.57,76.24 L416.32,73.96 L417.07,71.82 L417.82,69.82 L418.57,67.96 L419.32,66.24 L420.06,64.63 L420.81,63.15 L421.56,61.78 L422.31,60.51 L423.06,59.33 L423.81,58.25 L424.56,57.25 L425.31,56.32 L426.05,55.47 L426.80,54.67 L427.55,53.94 L428.30,53.26 L429.05,52.63 L429.80,52.05 L430.55,51.51 L431.30,51.01 L432.04,50.54 L432.79,50.11 L433.54,49.70 L434.29,49.33 L435.04,48.97 L435.79,48.65 L436.54,48.34 L437.29,48.05 L438.04,47.78 L438.78,47.53 L439.53,47.30 L440.28,47.08 L441.03,46.87 L441.78,46.67 L442.53,46.49 L443.28,46.32 L444.03,46.15 L444.77,46.00 L445.52,45.85 L446.27,45.72 L447.02,45.59 L447.77,45.46 L448.52,45.35 L449.27,45.24 L450.02,45.14 L450.76,45.04 L451.51,44.94 L452.26,44.85 L453.01,44.77 L453.76,44.69 L454.51,44.61 L455.26,44.54 L456.01,44.47 L456.76,44.41 L457.50,44.34 L458.25,44.28 L459.00,44.23 L459.75,44.17 L460.50,44.12 L461.25,44.07 L462.00,44.02 L462.75,43.98 L463.49,43.93 L464.24,43.89 L464.99,43.85 L465.74,43.81 L466.49,43.77 L467.24,43.74 L467.99,43.71 L468.74,43.67 L469.48,43.64 L470.23,43.61 L470.98,43.58 L471.73,43.56 L472.48,43.53 L473.23,43.50 L473.98,43.48 L474.73,43.45 L475.48,43.43 L476.22,43.41 L476.97,43.39 L477.72,43.37 L478.47,43.35 L479.22,43.33 L479.97,43.31 L480.72,43.29 L481.47,43.27 L482.21,43.26 L482.96,43.24 L483.71,43.23 L484.46,43.21 L485.21,43.20 L485.96,43.18 L486.71,43.17 L487.46,43.15 L488.20,43.14 L488.95,43.13 L489.70,43.12 L490.45,43.11 L491.20,43.09 L491.95,43.08 L492.70,43.07 L493.45,43.06 L494.20,43.05 L494.94,43.04 L495.69,43.03 L496.44,43.02 L497.19,43.02 L497.94,43.01 L498.69,43.00 L499.44,42.99 L500.19,42.98 L500.93,42.98 L501.68,42.97 L502.43,42.96 L503.18,42.95 L503.93,42.95 L504.68,42.94 L505.43,42.93 L506.18,42.93 L506.92,42.92 L507.67,42.91 L508.42,42.91 L509.17,42.90 L509.92,42.90 L510.67,42.89 L511.42,42.89 L512.17,42.88 L512.92,42.88 L513.66,42.87 L514.41,42.87 L515.16,42.86 L515.91,42.86 L516.66,42.85 L517.41,42.85 L518.16,42.85 L518.91,42.84 L519.65,42.84 L520.40,42.83 L521.15,42.83 L521.90,42.83 L522.65,42.82 L523.40,42.82 L524.15,42.81 L524.90,42.81 L525.64,42.81 L526.39,42.80 L527.14,42.80 L527.89,42.80 L528.64,42.80 L529.39,42.79 L530.14,42.79 L530.89,42.79 L531.64,42.78 L532.38,42.78 L533.13,42.78 L533.88,42.78 L534.63,42.77 L535.38,42.77 L536.13,42.77 L536.88,42.77 L537.63,42.76 L538.37,42.76 L539.12,42.76 L539.87,42.76 L540.62,42.75 L541.37,42.75 L542.12,42.75 L542.87,42.75 L543.62,42.75 L544.36,42.74 L545.11,42.74 L545.86,42.74 L546.61,42.74 L547.36,42.74" fill="none" stroke="#3a6cf0" stroke-width="0.9"/>
<path d="M397.60,122.50 L398.35,122.50 L399.10,122.50 L399.85,122.49 L400.60,122.47 L401.34,122.44 L402.09,122.40 L402.84,122.33 L403.59,122.24 L404.34,122.12 L405.09,121.97 L405.84,121.78 L406.59,121.56 L407.33,121.29 L408.08,120.97 L408.83,120.60 L409.58,120.18 L410.33,119.70 L411.08,119.17 L411.83,118.57 L412.58,117.92 L413.32,117.20 L414.07,116.42 L414.82,115.59 L415.57,114.69 L416.32,113.74 L417.07,112.73 L417.82,111.67 L418.57,110.56 L419.32,109.40 L420.06,108.20 L420.81,106.97 L421.56,105.71 L422.31,104.41 L423.06,103.10 L423.81,101.77 L424.56,100.43 L425.31,99.08 L426.05,97.72 L426.80,96.37 L427.55,95.03 L428.30,93.69 L429.05,92.37 L429.80,91.07 L430.55,89.78 L431.30,88.52 L432.04,87.28 L432.79,86.07 L433.54,84.89 L434.29,83.73 L435.04,82.61 L435.79,81.52 L436.54,80.46 L437.29,79.43 L438.04,78.44 L438.78,77.48 L439.53,76.55 L440.28,75.65 L441.03,74.79 L441.78,73.95 L442.53,73.15 L443.28,72.38 L444.03,71.63 L444.77,70.92 L445.52,70.23 L446.27,69.57 L447.02,68.93 L447.77,68.32 L448.52,67.74 L449.27,67.18 L450.02,66.64 L450.76,66.12 L451.51,65.62 L452.26,65.15 L453.01,64.69 L453.76,64.25 L454.51,63.83 L455.26,63.42 L456.01,63.04 L456.76,62.66 L457.50,62.31 L458.25,61.96 L459.00,61.63 L459.75,61.32 L460.50,61.01 L461.25,60.72 L462.00,60.44 L462.75,60.17 L463.49,59.91 L464.24,59.66 L464.99,59.43 L465.74,59.20 L466.49,58.97 L467.24,58.76 L467.99,58.56 L468.74,58.36 L469.48,58.17 L470.23,57.99 L470.98,57.81 L471.73,57.64 L472.48,57.48 L473.23,57.32 L473.98,57.17 L474.73,57.03 L475.48,56.89 L476.22,56.75 L476.97,56.62 L477.72,56.49 L478.47,56.37 L479.22,56.25 L479.97,56.14 L480.72,56.03 L481.47,55.92 L482.21,55.82 L482.96,55.72 L483.71,55.63 L484.46,55.53 L485.21,55.44 L485.96,55.36 L486.71,55.27 L487.46,55.19 L488.20,55.11 L488.95,55.04 L489.70,54.96 L490.45,54.89 L491.20,54.82 L491.95,54.76 L492.70,54.69 L493.45,54.63 L494.20,54.57 L494.94,54.51 L495.69,54.45 L496.44,54.40 L497.19,54.34 L497.94,54.29 L498.69,54.24 L499.44,54.19 L500.19,54.14 L500.93,54.10 L501.68,54.05 L502.43,54.01 L503.18,53.96 L503.93,53.92 L504.68,53.88 L505.43,53.84 L506.18,53.81 L506.92,53.77 L507.67,53.73 L508.42,53.70 L509.17,53.66 L509.92,53.63 L510.67,53.60 L511.42,53.57 L512.17,53.54 L512.92,53.51 L513.66,53.48 L514.41,53.45 L515.16,53.42 L515.91,53.39 L516.66,53.37 L517.41,53.34 L518.16,53.32 L518.91,53.29 L519.65,53.27 L520.40,53.25 L521.15,53.22 L521.90,53.20 L522.65,53.18 L523.40,53.16 L524.15,53.14 L524.90,53.12 L525.64,53.10 L526.39,53.08 L527.14,53.06 L527.89,53.05 L528.64,53.03 L529.39,53.01 L530.14,52.99 L530.89,52.98 L531.64,52.96 L532.38,52.95 L533.13,52.93 L533.88,52.92 L534.63,52.90 L535.38,52.89 L536.13,52.87 L536.88,52.86 L537.63,52.85 L538.37,52.83 L539.12,52.82 L539.87,52.81 L540.62,52.79 L541.37,52.78 L542.12,52.77 L542.87,52.76 L543.62,52.75 L544.36,52.74 L545.11,52.73 L545.86,52.72 L546.61,52.71 L547.36,52.70" fill="none" stroke="#f05a4a" stroke-width="0.9"/>
<path d="M397.60,122.50 L398.35,121.44 L399.10,120.73 L399.85,120.21 L400.60,119.81 L401.34,119.50 L402.09,119.24 L402.84,119.03 L403.59,118.84 L404.34,118.68 L405.09,118.54 L405.84,118.42 L406.59,118.30 L407.33,118.20 L408.08,118.11 L408.83,118.02 L409.58,117.94 L410.33,117.86 L411.08,117.79 L411.83,117.72 L412.58,117.66 L413.32,117.59 L414.07,117.53 L414.82,117.48 L415.57,117.42 L416.32,117.37 L417.07,117.32 L417.82,117.27 L418.57,117.22 L419.32,117.17 L420.06,117.13 L420.81,117.08 L421.56,117.04 L422.31,117.00 L423.06,116.95 L423.81,116.91 L424.56,116.87 L425.31,116.83 L426.05,116.79 L426.80,116.75 L427.55,116.72 L428.30,116.68 L429.05,116.64 L429.80,116.60 L430.55,116.57 L431.30,116.53 L432.04,116.49 L432.79,116.46 L433.54,116.42 L434.29,116.39 L435.04,116.35 L435.79,116.32 L436.54,116.28 L437.29,116.25 L438.04,116.22 L438.78,116.18 L439.53,116.15 L440.28,116.12 L441.03,116.08 L441.78,116.05 L442.53,116.02 L443.28,115.99 L444.03,115.95 L444.77,115.92 L445.52,115.89 L446.27,115.86 L447.02,115.83 L447.77,115.79 L448.52,115.76 L449.27,115.73 L450.02,115.70 L450.76,115.67 L451.51,115.64 L452.26,115.61 L453.01,115.58 L453.76,115.55 L454.51,115.51 L455.26,115.48 L456.01,115.45 L456.76,115.42 L457.50,115.39 L458.25,115.36 L459.00,115.33 L459.75,115.30 L460.50,115.27 L461.25,115.24 L462.00,115.21 L462.75,115.18 L463.49,115.15 L464.24,115.12 L464.99,115.09 L465.74,115.06 L466.49,115.03 L467.24,115.00 L467.99,114.97 L468.74,114.94 L469.48,114.91 L470.23,114.88 L470.98,114.85 L471.73,114.82 L472.48,114.80 L473.23,114.77 L473.98,114.74 L474.73,114.71 L475.48,114.68 L476.22,114.65 L476.97,114.62 L477.72,114.59 L478.47,114.56 L479.22,114.53 L479.97,114.50 L480.72,114.47 L481.47,114.45 L482.21,114.42 L482.96,114.39 L483.71,114.36 L484.46,114.33 L485.21,114.30 L485.96,114.27 L486.71,114.24 L487.46,114.21 L488.20,114.18 L488.95,114.16 L489.70,114.13 L490.45,114.10 L491.20,114.07 L491.95,114.04 L492.70,114.01 L493.45,113.98 L494.20,113.96 L494.94,113.93 L495.69,113.90 L496.44,113.87 L497.19,113.84 L497.94,113.81 L498.69,113.78 L499.44,113.75 L500.19,113.73 L500.93,113.70 L501.68,113.67 L502.43,113.64 L503.18,113.61 L503.93,113.58 L504.68,113.56 L505.43,113.53 L506.18,113.50 L506.92,113.47 L507.67,113.44 L508.42,113.41 L509.17,113.39 L509.92,113.36 L510.67,113.33 L511.42,113.30 L512.17,113.27 L512.92,113.24 L513.66,113.22 L514.41,113.19 L515.16,113.16 L515.91,113.13 L516.66,113.10 L517.41,113.07 L518.16,113.05 L518.91,113.02 L519.65,112.99 L520.40,112.96 L521.15,112.93 L521.90,112.90 L522.65,112.88 L523.40,112.85 L524.15,112.82 L524.90,112.79 L525.64,112.76 L526.39,112.74 L527.14,112.71 L527.89,112.68 L528.64,112.65 L529.39,112.62 L530.14,112.59 L530.89,112.57 L531.64,112.54 L532.38,112.51 L533.13,112.48 L533.88,112.45 L534.63,112.43 L535.38,112.40 L536.13,112.37 L536.88,112.34 L537.63,112.31 L538.37,112.29 L539.12,112.26 L539.87,112.23 L540.62,112.20 L541.37,112.17 L542.12,112.15 L542.87,112.12 L543.62,112.09 L544.36,112.06 L545.11,112.03 L545.86,112.01 L546.61,111.98 L547.36,111.95" fill="none" stroke="#444" stroke-width="0.8"/>
<circle cx="400.78" cy="116.74" r="1.95" fill="none" stroke="#111" stroke-width="1.05"/>
<circle cx="412.20" cy="120.95" r="1.95" fill="none" stroke="#111" stroke-width="1.05"/>
<circle cx="415.80" cy="110.04" r="1.95" fill="none" stroke="#111" stroke-width="1.05"/>
<circle cx="420.06" cy="117.78" r="1.95" fill="none" stroke="#111" stroke-width="1.05"/>
<circle cx="427.18" cy="118.63" r="1.95" fill="none" stroke="#111" stroke-width="1.05"/>
<circle cx="434.52" cy="120.95" r="1.95" fill="none" stroke="#111" stroke-width="1.05"/>
<circle cx="442.23" cy="115.37" r="1.95" fill="none" stroke="#111" stroke-width="1.05"/>
<circle cx="449.72" cy="115.37" r="1.95" fill="none" stroke="#111" stroke-width="1.05"/>
<circle cx="457.02" cy="116.40" r="1.95" fill="none" stroke="#111" stroke-width="1.05"/>
<circle cx="472.48" cy="113.39" r="1.95" fill="none" stroke="#111" stroke-width="1.05"/>
<circle cx="546.99" cy="112.36" r="1.95" fill="none" stroke="#111" stroke-width="1.05"/>
<rect x="401.44" y="124.19" width="2.8" height="2.8" fill="#f5a020" transform="rotate(45 402.84 125.59)"/>
<rect x="410.80" y="110.79" width="2.8" height="2.8" fill="#f5a020" transform="rotate(45 412.20 112.19)"/>
<rect x="414.92" y="120.24" width="2.8" height="2.8" fill="#f5a020" transform="rotate(45 416.32 121.64)"/>
<rect x="425.78" y="115.95" width="2.8" height="2.8" fill="#f5a020" transform="rotate(45 427.18 117.35)"/>
<rect x="433.12" y="123.68" width="2.8" height="2.8" fill="#f5a020" transform="rotate(45 434.52 125.08)"/>
<rect x="440.75" y="123.85" width="2.8" height="2.8" fill="#f5a020" transform="rotate(45 442.15 125.25)"/>
<rect x="448.24" y="126.68" width="2.8" height="2.8" fill="#f5a020" transform="rotate(45 449.64 128.08)"/>
<rect x="455.73" y="130.29" width="2.8" height="2.8" fill="#f5a020" transform="rotate(45 457.13 131.69)"/>
<rect x="471.08" y="128.49" width="2.8" height="2.8" fill="#f5a020" transform="rotate(45 472.48 129.89)"/>
<rect x="545.96" y="124.97" width="2.8" height="2.8" fill="#f5a020" transform="rotate(45 547.36 126.37)"/>
<rect x="395.30" y="120.20" width="4.6" height="4.6" fill="#f03a2a"/>
<rect x="399.04" y="117.62" width="4.6" height="4.6" fill="#f03a2a"/>
<rect x="402.04" y="119.08" width="4.6" height="4.6" fill="#f03a2a"/>
<rect x="409.90" y="114.53" width="4.6" height="4.6" fill="#f03a2a"/>
<rect x="413.50" y="109.29" width="4.6" height="4.6" fill="#f03a2a"/>
<rect x="417.76" y="108.17" width="4.6" height="4.6" fill="#f03a2a"/>
<rect x="424.88" y="100.44" width="4.6" height="4.6" fill="#f03a2a"/>
<rect x="432.52" y="77.51" width="4.6" height="4.6" fill="#f03a2a"/>
<rect x="440.23" y="69.60" width="4.6" height="4.6" fill="#f03a2a"/>
<rect x="447.72" y="68.92" width="4.6" height="4.6" fill="#f03a2a"/>
<rect x="455.20" y="58.35" width="4.6" height="4.6" fill="#f03a2a"/>
<rect x="470.18" y="53.71" width="4.6" height="4.6" fill="#f03a2a"/>
<rect x="545.06" y="51.74" width="4.6" height="4.6" fill="#f03a2a"/>
<circle cx="397.60" cy="122.50" r="2.5" fill="#1f4ff0"/>
<circle cx="400.78" cy="117.78" r="2.5" fill="#1f4ff0"/>
<circle cx="402.39" cy="116.23" r="2.5" fill="#1f4ff0"/>
<circle cx="403.89" cy="114.68" r="2.5" fill="#1f4ff0"/>
<circle cx="404.90" cy="113.57" r="2.5" fill="#1f4ff0"/>
<circle cx="412.20" cy="84.02" r="2.5" fill="#1f4ff0"/>
<circle cx="416.32" cy="78.61" r="2.5" fill="#1f4ff0"/>
<circle cx="420.06" cy="65.81" r="2.5" fill="#1f4ff0"/>
<circle cx="427.55" cy="53.18" r="2.5" fill="#1f4ff0"/>
<circle cx="435.04" cy="53.18" r="2.5" fill="#1f4ff0"/>
<circle cx="442.53" cy="46.22" r="2.5" fill="#1f4ff0"/>
<circle cx="450.02" cy="44.76" r="2.5" fill="#1f4ff0"/>
<circle cx="457.50" cy="43.21" r="2.5" fill="#1f4ff0"/>
<circle cx="472.48" cy="46.05" r="2.5" fill="#1f4ff0"/>
<circle cx="547.36" cy="42.70" r="2.5" fill="#1f4ff0"/>
<line x1="559.7" y1="44.6" x2="571.1" y2="44.6" stroke="#1f4ff0" stroke-width="1"/><circle cx="565.4" cy="44.6" r="1.9" fill="#1f4ff0"/>
<line x1="559.7" y1="58.4" x2="571.1" y2="58.4" stroke="#f05a4a" stroke-width="1"/><rect x="563.2" y="56.199999999999996" width="4.4" height="4.4" fill="#f03a2a"/>
<line x1="559.7" y1="72.2" x2="571.1" y2="72.2" stroke="#f0a040" stroke-width="1"/><rect x="564.1" y="70.9" width="2.6" height="2.6" fill="#f5a020" transform="rotate(45 565.4 72.2)"/>
<line x1="559.7" y1="86.2" x2="571.1" y2="86.2" stroke="#555" stroke-width="1"/><circle cx="565.4" cy="86.2" r="2" fill="#777" stroke="#222" stroke-width="1.2"/>
<text x="576.6" y="49.2" font-size="9.7" font-style="italic" fill="#223d7c" stroke="#223d7c" stroke-width="0.18">4BOX MraZ</text>
<text x="576.6" y="63" font-size="9.7" font-style="italic" fill="#223d7c" stroke="#223d7c" stroke-width="0.18">4BOX MraZ<tspan font-size="6.5" dy="2.8">ΔCTDF36RF52K</tspan></text>
<text x="576.6" y="76.8" font-size="9.7" font-style="italic" fill="#223d7c" stroke="#223d7c" stroke-width="0.18">Δ4BOX MraZ</text>
<text x="576.6" y="90.8" font-size="9.7" font-style="italic" fill="#223d7c" stroke="#223d7c" stroke-width="0.18">Δ4BOX MraZ<tspan font-size="6.5" dy="2.8">ΔCTDF36RF52K</tspan></text>
<g stroke="#000" stroke-width="1.2" fill="none">
<rect x="368.6" y="160.2" width="187" height="40"/>
<line x1="368.6" y1="174.4" x2="555.6" y2="174.4"/>
<line x1="368.6" y1="187.5" x2="555.6" y2="187.5"/>
<line x1="453.6" y1="174.4" x2="453.6" y2="200.2"/>
</g>
<text x="443.8" y="171.3" font-size="9.3" font-weight="bold" textLength="36.8" lengthAdjust="spacingAndGlyphs" fill="#111">Kd (nM)</text>
<text x="393.5" y="184.8" font-size="8.6" font-style="italic" textLength="35" lengthAdjust="spacingAndGlyphs" fill="#222">MraZWT</text>
<text x="471.5" y="184.8" font-size="8.6" font-style="italic" textLength="21.5" lengthAdjust="spacingAndGlyphs" fill="#222">MraZ</text>
<text x="495.2" y="184.7" font-size="4.9" font-style="italic" textLength="43.5" lengthAdjust="spacingAndGlyphs" fill="#222">ΔCTDF36RF52K</text>
<text x="386.3" y="197.3" font-size="9.1" textLength="48.5" lengthAdjust="spacingAndGlyphs" fill="#222">43.35 ± 1.32</text>
<text x="481.5" y="197.6" font-size="9.1" textLength="46.5" lengthAdjust="spacingAndGlyphs" fill="#222">94.39± 8.85</text>
<line x1="392.1" y1="270.8" x2="392.1" y2="359.9" stroke="#000" stroke-width="1"/>
<line x1="392.1" y1="359.9" x2="525.3" y2="359.9" stroke="#000" stroke-width="1"/>
<line x1="388.3" y1="271.79999999999995" x2="392.1" y2="271.79999999999995" stroke="#000" stroke-width="1"/>
<text x="386.8" y="274.19999999999993" font-size="7" font-weight="bold" font-style="normal" fill="#000" text-anchor="end" >1.0</text>
<line x1="388.3" y1="315.84999999999997" x2="392.1" y2="315.84999999999997" stroke="#000" stroke-width="1"/>
<text x="386.8" y="318.24999999999994" font-size="7" font-weight="bold" font-style="normal" fill="#000" text-anchor="end" >0.5</text>
<line x1="388.3" y1="359.9" x2="392.1" y2="359.9" stroke="#000" stroke-width="1"/>
<text x="386.8" y="362.29999999999995" font-size="7" font-weight="bold" font-style="normal" fill="#000" text-anchor="end" >0.0</text>
<line x1="392.1" y1="359.9" x2="392.1" y2="363.4" stroke="#000" stroke-width="1"/>
<text x="392.1" y="370.9" font-size="7" font-weight="bold" font-style="normal" fill="#000" text-anchor="middle" >0</text>
<line x1="425.28000000000003" y1="359.9" x2="425.28000000000003" y2="363.4" stroke="#000" stroke-width="1"/>
<text x="425.28000000000003" y="370.9" font-size="7" font-weight="bold" font-style="normal" fill="#000" text-anchor="middle" >100</text>
<line x1="458.46000000000004" y1="359.9" x2="458.46000000000004" y2="363.4" stroke="#000" stroke-width="1"/>
<text x="458.46000000000004" y="370.9" font-size="7" font-weight="bold" font-style="normal" fill="#000" text-anchor="middle" >200</text>
<line x1="491.64" y1="359.9" x2="491.64" y2="363.4" stroke="#000" stroke-width="1"/>
<text x="491.64" y="370.9" font-size="7" font-weight="bold" font-style="normal" fill="#000" text-anchor="middle" >300</text>
<line x1="524.82" y1="359.9" x2="524.82" y2="363.4" stroke="#000" stroke-width="1"/>
<text x="524.82" y="370.9" font-size="7" font-weight="bold" font-style="normal" fill="#000" text-anchor="middle" >400</text>
<text x="458.6" y="382.6" font-size="7" font-weight="bold" font-style="normal" fill="#000" text-anchor="middle" >[MraZ] nM</text>
<text transform="translate(373.1,315.6) rotate(-90)" font-size="7.2" font-weight="bold" text-anchor="middle">Fraction of bound DNA (a.u)</text>
<path d="M392.10,359.90 L392.76,359.90 L393.43,359.90 L394.09,359.90 L394.75,359.89 L395.42,359.88 L396.08,359.87 L396.75,359.85 L397.41,359.82 L398.07,359.79 L398.74,359.75 L399.40,359.71 L400.06,359.65 L400.73,359.59 L401.39,359.51 L402.05,359.43 L402.72,359.33 L403.38,359.22 L404.04,359.10 L404.71,358.97 L405.37,358.82 L406.04,358.66 L406.70,358.49 L407.36,358.29 L408.03,358.09 L408.69,357.86 L409.35,357.63 L410.02,357.37 L410.68,357.10 L411.34,356.81 L412.01,356.50 L412.67,356.17 L413.34,355.83 L414.00,355.47 L414.66,355.09 L415.33,354.69 L415.99,354.27 L416.65,353.84 L417.32,353.38 L417.98,352.91 L418.64,352.42 L419.31,351.92 L419.97,351.39 L420.63,350.85 L421.30,350.29 L421.96,349.71 L422.63,349.12 L423.29,348.51 L423.95,347.89 L424.62,347.25 L425.28,346.60 L425.94,345.93 L426.61,345.25 L427.27,344.55 L427.93,343.85 L428.60,343.13 L429.26,342.40 L429.93,341.66 L430.59,340.91 L431.25,340.15 L431.92,339.38 L432.58,338.61 L433.24,337.83 L433.91,337.04 L434.57,336.24 L435.23,335.44 L435.90,334.64 L436.56,333.83 L437.22,333.02 L437.89,332.20 L438.55,331.38 L439.22,330.57 L439.88,329.75 L440.54,328.93 L441.21,328.11 L441.87,327.29 L442.53,326.48 L443.20,325.67 L443.86,324.85 L444.52,324.05 L445.19,323.24 L445.85,322.44 L446.52,321.65 L447.18,320.86 L447.84,320.07 L448.51,319.29 L449.17,318.52 L449.83,317.75 L450.50,316.99 L451.16,316.23 L451.82,315.48 L452.49,314.74 L453.15,314.01 L453.81,313.29 L454.48,312.57 L455.14,311.86 L455.81,311.16 L456.47,310.47 L457.13,309.78 L457.80,309.11 L458.46,308.44 L459.12,307.78 L459.79,307.13 L460.45,306.49 L461.11,305.86 L461.78,305.24 L462.44,304.63 L463.11,304.02 L463.77,303.43 L464.43,302.84 L465.10,302.27 L465.76,301.70 L466.42,301.14 L467.09,300.59 L467.75,300.05 L468.41,299.51 L469.08,298.99 L469.74,298.47 L470.40,297.96 L471.07,297.47 L471.73,296.98 L472.40,296.49 L473.06,296.02 L473.72,295.55 L474.39,295.10 L475.05,294.65 L475.71,294.20 L476.38,293.77 L477.04,293.34 L477.70,292.92 L478.37,292.51 L479.03,292.11 L479.70,291.71 L480.36,291.32 L481.02,290.94 L481.69,290.56 L482.35,290.19 L483.01,289.83 L483.68,289.47 L484.34,289.12 L485.00,288.78 L485.67,288.44 L486.33,288.11 L486.99,287.78 L487.66,287.46 L488.32,287.15 L488.99,286.84 L489.65,286.54 L490.31,286.24 L490.98,285.95 L491.64,285.67 L492.30,285.38 L492.97,285.11 L493.63,284.84 L494.29,284.57 L494.96,284.31 L495.62,284.06 L496.29,283.80 L496.95,283.56 L497.61,283.31 L498.28,283.08 L498.94,282.84 L499.60,282.61 L500.27,282.39 L500.93,282.16 L501.59,281.95 L502.26,281.73 L502.92,281.52 L503.58,281.32 L504.25,281.12 L504.91,280.92 L505.58,280.72 L506.24,280.53 L506.90,280.34 L507.57,280.16 L508.23,279.98 L508.89,279.80 L509.56,279.62 L510.22,279.45 L510.88,279.28 L511.55,279.11 L512.21,278.95 L512.88,278.79 L513.54,278.63 L514.20,278.48 L514.87,278.32 L515.53,278.17 L516.19,278.03 L516.86,277.88 L517.52,277.74 L518.18,277.60 L518.85,277.46 L519.51,277.33 L520.17,277.20 L520.84,277.06 L521.50,276.94 L522.17,276.81 L522.83,276.69 L523.49,276.56 L524.16,276.44 L524.82,276.33" fill="none" stroke="#3048c0" stroke-width="0.9"/>
<path d="M392.10,359.90 L392.76,358.29 L393.43,357.01 L394.09,355.97 L394.75,355.09 L395.42,354.35 L396.08,353.71 L396.75,353.15 L397.41,352.66 L398.07,352.22 L398.74,351.82 L399.40,351.46 L400.06,351.13 L400.73,350.83 L401.39,350.55 L402.05,350.30 L402.72,350.06 L403.38,349.83 L404.04,349.62 L404.71,349.42 L405.37,349.23 L406.04,349.05 L406.70,348.88 L407.36,348.72 L408.03,348.56 L408.69,348.41 L409.35,348.27 L410.02,348.13 L410.68,348.00 L411.34,347.87 L412.01,347.74 L412.67,347.62 L413.34,347.50 L414.00,347.39 L414.66,347.28 L415.33,347.17 L415.99,347.06 L416.65,346.96 L417.32,346.85 L417.98,346.75 L418.64,346.66 L419.31,346.56 L419.97,346.47 L420.63,346.37 L421.30,346.28 L421.96,346.19 L422.63,346.11 L423.29,346.02 L423.95,345.93 L424.62,345.85 L425.28,345.77 L425.94,345.68 L426.61,345.60 L427.27,345.52 L427.93,345.44 L428.60,345.36 L429.26,345.29 L429.93,345.21 L430.59,345.13 L431.25,345.06 L431.92,344.98 L432.58,344.91 L433.24,344.83 L433.91,344.76 L434.57,344.69 L435.23,344.62 L435.90,344.54 L436.56,344.47 L437.22,344.40 L437.89,344.33 L438.55,344.26 L439.22,344.19 L439.88,344.13 L440.54,344.06 L441.21,343.99 L441.87,343.92 L442.53,343.85 L443.20,343.79 L443.86,343.72 L444.52,343.65 L445.19,343.59 L445.85,343.52 L446.52,343.46 L447.18,343.39 L447.84,343.33 L448.51,343.26 L449.17,343.20 L449.83,343.13 L450.50,343.07 L451.16,343.01 L451.82,342.94 L452.49,342.88 L453.15,342.82 L453.81,342.76 L454.48,342.69 L455.14,342.63 L455.81,342.57 L456.47,342.51 L457.13,342.44 L457.80,342.38 L458.46,342.32 L459.12,342.26 L459.79,342.20 L460.45,342.14 L461.11,342.08 L461.78,342.02 L462.44,341.96 L463.11,341.89 L463.77,341.83 L464.43,341.77 L465.10,341.71 L465.76,341.65 L466.42,341.59 L467.09,341.53 L467.75,341.47 L468.41,341.42 L469.08,341.36 L469.74,341.30 L470.40,341.24 L471.07,341.18 L471.73,341.12 L472.40,341.06 L473.06,341.00 L473.72,340.94 L474.39,340.88 L475.05,340.83 L475.71,340.77 L476.38,340.71 L477.04,340.65 L477.70,340.59 L478.37,340.53 L479.03,340.48 L479.70,340.42 L480.36,340.36 L481.02,340.30 L481.69,340.24 L482.35,340.19 L483.01,340.13 L483.68,340.07 L484.34,340.01 L485.00,339.96 L485.67,339.90 L486.33,339.84 L486.99,339.78 L487.66,339.73 L488.32,339.67 L488.99,339.61 L489.65,339.56 L490.31,339.50 L490.98,339.44 L491.64,339.39 L492.30,339.33 L492.97,339.27 L493.63,339.21 L494.29,339.16 L494.96,339.10 L495.62,339.05 L496.29,338.99 L496.95,338.93 L497.61,338.88 L498.28,338.82 L498.94,338.76 L499.60,338.71 L500.27,338.65 L500.93,338.59 L501.59,338.54 L502.26,338.48 L502.92,338.43 L503.58,338.37 L504.25,338.31 L504.91,338.26 L505.58,338.20 L506.24,338.15 L506.90,338.09 L507.57,338.03 L508.23,337.98 L508.89,337.92 L509.56,337.87 L510.22,337.81 L510.88,337.75 L511.55,337.70 L512.21,337.64 L512.88,337.59 L513.54,337.53 L514.20,337.48 L514.87,337.42 L515.53,337.37 L516.19,337.31 L516.86,337.25 L517.52,337.20 L518.18,337.14 L518.85,337.09 L519.51,337.03 L520.17,336.98 L520.84,336.92 L521.50,336.87 L522.17,336.81 L522.83,336.76 L523.49,336.70 L524.16,336.65 L524.82,336.59" fill="none" stroke="#5a9a5e" stroke-width="0.9"/>
<circle cx="392.10" cy="359.90" r="2.2" fill="#3a7d3e"/>
<circle cx="395.19" cy="354.53" r="2.2" fill="#3a7d3e"/>
<circle cx="396.75" cy="349.86" r="2.2" fill="#3a7d3e"/>
<circle cx="405.21" cy="345.89" r="2.2" fill="#3a7d3e"/>
<circle cx="408.49" cy="347.74" r="2.2" fill="#3a7d3e"/>
<circle cx="412.01" cy="345.19" r="2.2" fill="#3a7d3e"/>
<circle cx="418.48" cy="344.48" r="2.2" fill="#3a7d3e"/>
<circle cx="425.08" cy="344.04" r="2.2" fill="#3a7d3e"/>
<circle cx="431.88" cy="345.89" r="2.2" fill="#3a7d3e"/>
<circle cx="438.39" cy="341.13" r="2.2" fill="#3a7d3e"/>
<circle cx="444.86" cy="343.16" r="2.2" fill="#3a7d3e"/>
<circle cx="458.46" cy="343.51" r="2.2" fill="#3a7d3e"/>
<circle cx="524.82" cy="335.23" r="2.2" fill="#3a7d3e"/>
<path d="M392.10,357.50 L394.40,361.50 L389.80,361.50 Z" fill="#2230a8"/>
<path d="M398.60,353.98 L400.90,357.98 L396.30,357.98 Z" fill="#2230a8"/>
<path d="M398.74,355.74 L401.04,359.74 L396.44,359.74 Z" fill="#2230a8"/>
<path d="M408.69,357.50 L410.99,361.50 L406.39,361.50 Z" fill="#2230a8"/>
<path d="M418.64,345.52 L420.94,349.52 L416.34,349.52 Z" fill="#2230a8"/>
<path d="M431.48,334.59 L433.78,338.59 L429.18,338.59 Z" fill="#2230a8"/>
<path d="M438.39,316.97 L440.69,320.97 L436.09,320.97 Z" fill="#2230a8"/>
<path d="M444.86,324.37 L447.16,328.37 L442.56,328.37 Z" fill="#2230a8"/>
<path d="M458.46,307.28 L460.76,311.28 L456.16,311.28 Z" fill="#2230a8"/>
<path d="M524.82,273.81 L527.12,277.81 L522.52,277.81 Z" fill="#2230a8"/>
<line x1="525.7" y1="296.2" x2="537.3" y2="296.2" stroke="#3048c0" stroke-width="0.9"/><path d="M531.5,294 L533.5,297.5 L529.5,297.5 Z" fill="#2230a8"/>
<line x1="525.7" y1="311" x2="537.3" y2="311" stroke="#5a9a5e" stroke-width="0.9"/><circle cx="531.5" cy="311" r="1.9" fill="#3a7d3e"/>
<text x="541" y="299.2" font-size="9.85" font-style="italic" fill="#223d7c" stroke="#223d7c" stroke-width="0.18">Long Spacer MraZ</text>
<text x="541" y="314" font-size="9.85" font-style="italic" fill="#223d7c" stroke="#223d7c" stroke-width="0.18">Long Spacer MraZ<tspan font-size="6.5" dy="2.6">ΔCTDF36RF52K</tspan></text>
</svg>
</body></html>
